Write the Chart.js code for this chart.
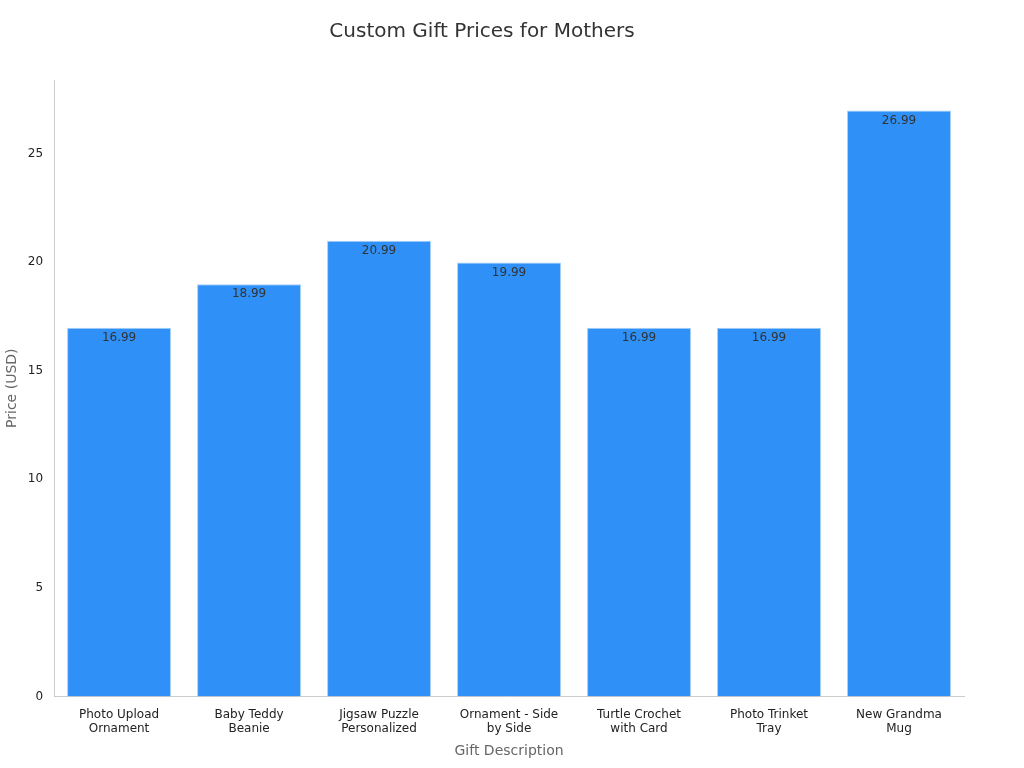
<!DOCTYPE html>
<html>
<head>
<meta charset="utf-8">
<script src="https://cdn.jsdelivr.net/npm/chart.js@4"></script>
<style>
  html, body { margin: 0; padding: 0; background: #ffffff; }
  #wrap { width: 1024px; height: 768px; }
</style>
</head>
<body>
<div id="wrap"><canvas id="giftChart" width="1024" height="768"></canvas></div>
<script>
// Chart data
const categories = [
    ['Photo Upload', 'Ornament'],
    ['Baby Teddy', 'Beanie'],
    ['Jigsaw Puzzle', 'Personalized'],
    ['Ornament - Side', 'by Side'],
    ['Turtle Crochet', 'with Card'],
    ['Photo Trinket', 'Tray'],
    ['New Grandma', 'Mug']
];
const prices = [16.99, 18.99, 20.99, 19.99, 16.99, 16.99, 26.99];
const yTicks = [0, 5, 10, 15, 20, 25];

// Draw value labels just inside the top of each bar
const valueLabels = {
    id: 'valueLabels',
    afterDatasetsDraw(chart) {
        const ctx = chart.ctx;
        const meta = chart.getDatasetMeta(0);
        ctx.save();
        ctx.font = '12px "DejaVu Sans", sans-serif';
        ctx.fillStyle = '#333333';
        ctx.textAlign = 'center';
        ctx.textBaseline = 'top';
        meta.data.forEach((bar, i) => {
            ctx.fillText(prices[i].toFixed(2), bar.x, bar.y + 4);
        });
        ctx.restore();
    }
};

new Chart(document.getElementById('giftChart'), {
    type: 'bar',
    data: {
        labels: categories,
        datasets: [{
            data: prices,
            backgroundColor: '#2f91f8',
            borderColor: '#a8d0fb',
            borderWidth: 1,
            categoryPercentage: 0.8,
            barPercentage: 1.0
        }]
    },
    options: {
        responsive: false,
        animation: false,
        layout: { padding: { left: 0, right: 60, top: 10, bottom: 4 } },
        plugins: {
            legend: { display: false },
            tooltip: { enabled: false },
            title: {
                display: true,
                text: 'Custom Gift Prices for Mothers',
                color: '#333333',
                font: { size: 20, family: '"DejaVu Sans", sans-serif', weight: 'normal' },
                padding: { top: 10, bottom: 36 }
            }
        },
        scales: {
            x: {
                grid: { display: false },
                border: { color: '#cccccc' },
                ticks: { color: '#222222', font: { size: 12, family: '"DejaVu Sans", sans-serif' }, maxRotation: 0 },
                title: {
                    display: true,
                    text: 'Gift Description',
                    color: '#666666',
                    font: { size: 14, family: '"DejaVu Sans", sans-serif' }
                }
            },
            y: {
                min: 0,
                max: 28.4,
                grid: { display: false, drawTicks: true },
                border: { color: '#cccccc' },
                afterBuildTicks: (axis) => { axis.ticks = yTicks.map(v => ({ value: v })); },
                ticks: { color: '#222222', font: { size: 12, family: '"DejaVu Sans", sans-serif' } },
                title: {
                    display: true,
                    text: 'Price (USD)',
                    color: '#666666',
                    font: { size: 14, family: '"DejaVu Sans", sans-serif' }
                }
            }
        }
    },
    plugins: [valueLabels]
});
</script>
</body>
</html>
